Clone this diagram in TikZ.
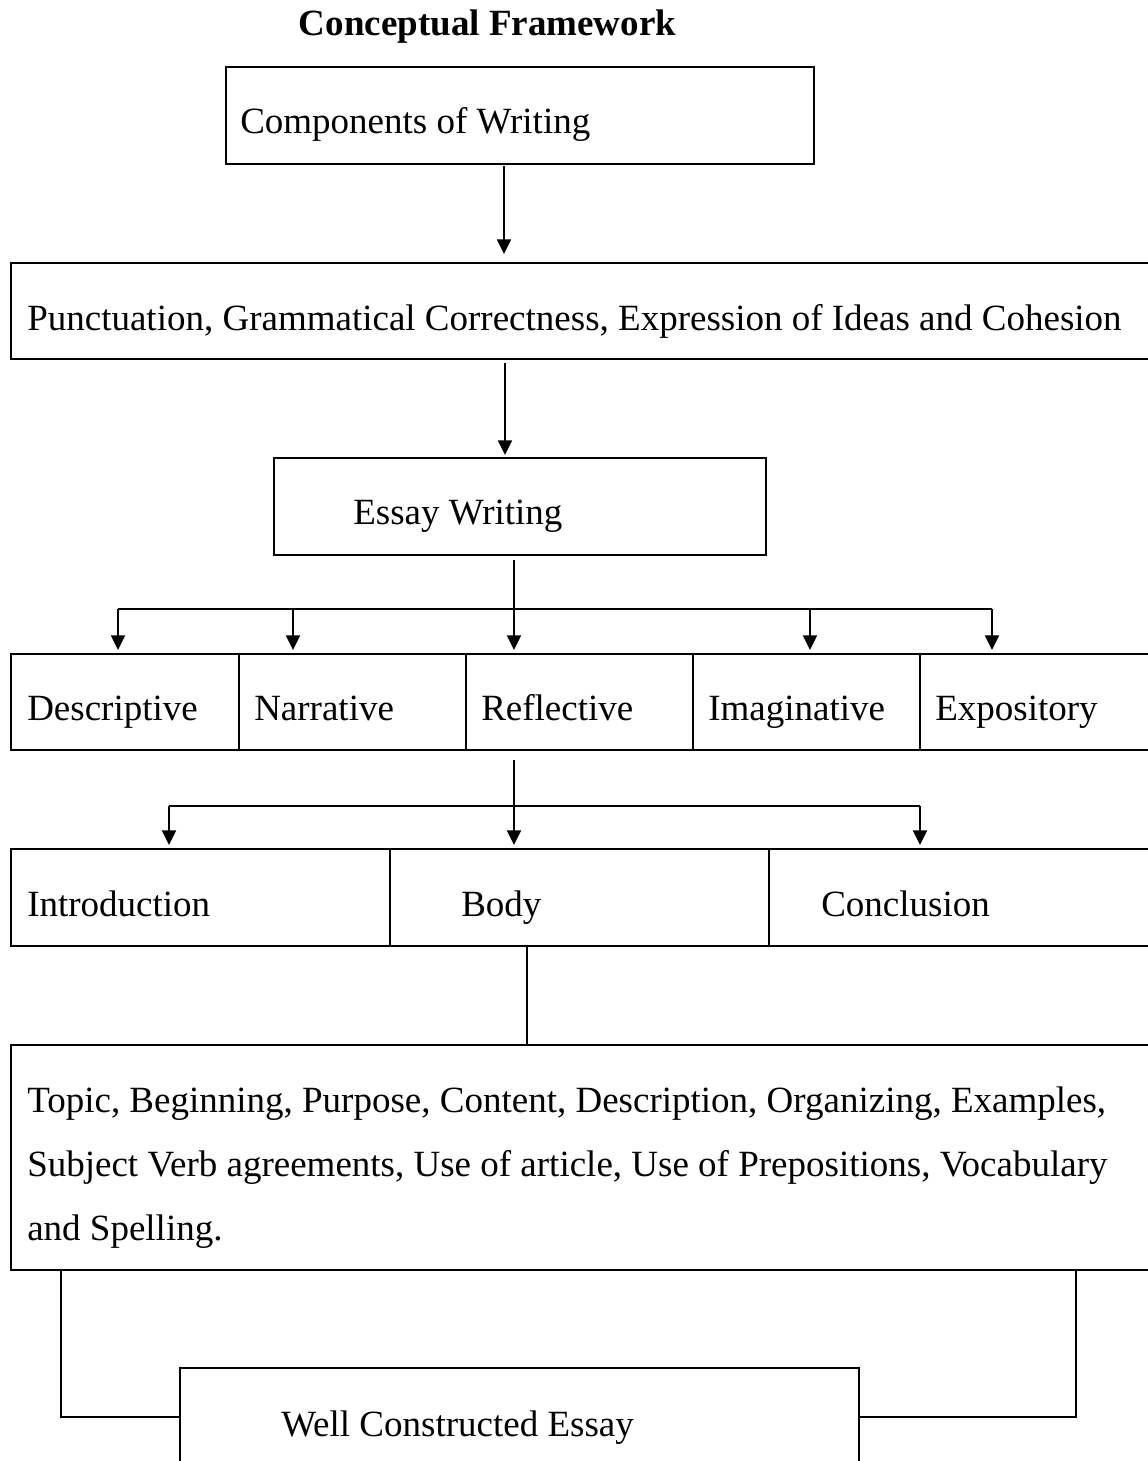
\documentclass[tikz,border=0pt]{standalone}
\usepackage{fontspec}
\setmainfont{Liberation Serif}
\usetikzlibrary{arrows.meta,fit,calc}
\begin{document}
\begin{tikzpicture}[x=0.75pt,y=-0.75pt,
 box/.style={draw, line width=1pt, inner sep=0pt, outer sep=0pt, rectangle},
 lbl/.style={anchor=base west, inner sep=0pt, font=\fontsize{27.75}{33}\selectfont},
 ttl/.style={anchor=base, inner sep=0pt, font=\fontsize{27.75}{33}\selectfont\bfseries},
 ln/.style={line width=1.2pt},
 arr/.style={line width=1.2pt, -{Triangle[length=11pt,width=10.5pt]}}]
\clip (0,0) rectangle (1148,1461);
\fill[white] (0,0) rectangle (1148,1461);

\node[ttl] (title) at (487.5,35) {Conceptual Framework};

\node[box, fit={(226,67) (814,164)}] (comp) {};
\node[lbl] (compT) at (240,133) {Components of Writing};

\node[box, fit={(11,263) (1151,359)}] (punc) {};
\node[lbl] (puncT) at (27,330) {Punctuation, Grammatical Correctness, Expression of Ideas and Cohesion};

\node[box, fit={(274,458) (766,555)}] (essay) {};
\node[lbl] (essayT) at (353,524) {Essay Writing};

\node[box, fit={(11,654) (239,750)}] (desc) {};
\node[box, fit={(239,654) (466,750)}] (narr) {};
\node[box, fit={(466,654) (693,750)}] (refl) {};
\node[box, fit={(693,654) (920,750)}] (imag) {};
\node[box, fit={(920,654) (1151,750)}] (expo) {};
\node[lbl] (descT) at (27,720) {Descriptive};
\node[lbl] (narrT) at (254,720) {Narrative};
\node[lbl] (reflT) at (481,720) {Reflective};
\node[lbl] (imagT) at (708,720) {Imaginative};
\node[lbl] (expoT) at (935,720) {Expository};

\node[box, fit={(11,849) (390,946)}] (intro) {};
\node[box, fit={(390,849) (769,946)}] (body) {};
\node[box, fit={(769,849) (1151,946)}] (concl) {};
\node[lbl] (introT) at (27,916) {Introduction};
\node[lbl] (bodyT) at (461,916) {Body};
\node[lbl] (conclT) at (821,916) {Conclusion};

\node[box, fit={(11,1045) (1151,1270)}] (big) {};
\node[lbl] (bigA) at (27,1112) {Topic, Beginning, Purpose, Content, Description, Organizing, Examples,};
\node[lbl] (bigB) at (27,1176) {Subject Verb agreements, Use of article, Use of Prepositions, Vocabulary};
\node[lbl] (bigC) at (27,1240) {and Spelling.};

\node[box, fit={(180,1368) (859,1466)}] (final) {};
\node[lbl] (finalT) at (281,1436) {Well Constructed Essay};

% connectors
\draw[arr] ($(504,0 |- comp.south)+(0,2)$) -- ($(504,0 |- punc.north)+(0,-9)$);
\draw[arr] ($(505,0 |- punc.south)+(0,4)$) -- ($(505,0 |- essay.north)+(0,-3)$);

\coordinate (j1) at (514,609);
\coordinate (j1L) at (118,609);
\coordinate (j1R) at (992,609);
\draw[ln] ($(514,0 |- essay.south)+(0,5)$) -- (j1);
\draw[ln] (j1L) -- (j1R);
\foreach \n/\x in {desc/118, narr/293, refl/514, imag/810, expo/992}
  \draw[arr] (\x,609) -- ($(\x,0 |- \n.north)+(0,-4)$);

\coordinate (j2) at (514,806);
\coordinate (j2L) at (169,806);
\coordinate (j2R) at (920,806);
\draw[ln] ($(514,0 |- refl.south)+(0,10)$) -- (j2);
\draw[ln] (j2L) -- (j2R);
\foreach \n/\x in {intro/169, body/514, concl/920}
  \draw[arr] (\x,806) -- ($(\x,0 |- \n.north)+(0,-4)$);

\draw[ln] (527,0 |- body.south) -- (527,0 |- big.north);
\draw[ln] (61,0 |- big.south) |- (final.west);
\draw[ln] (1076,0 |- big.south) |- (final.east);
\end{tikzpicture}
\end{document}
